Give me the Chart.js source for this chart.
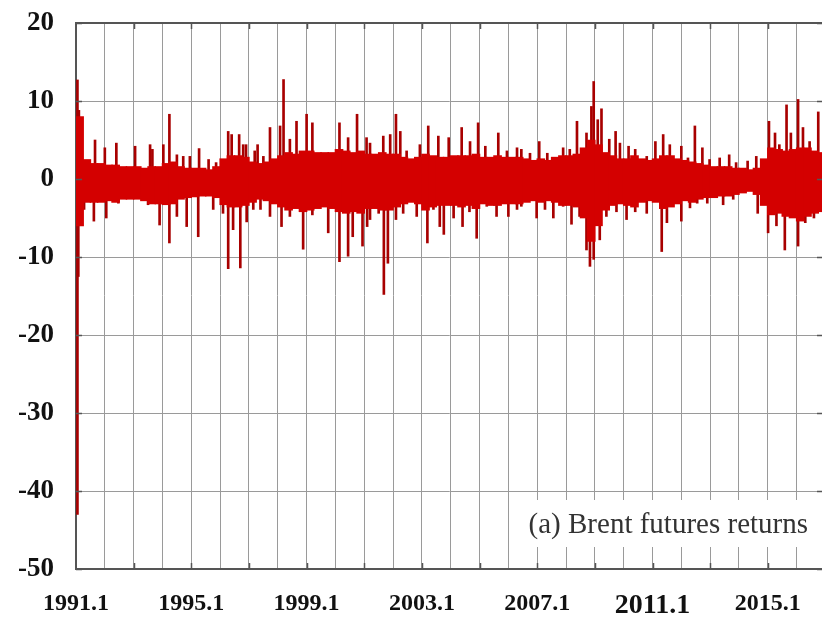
<!DOCTYPE html>
<html>
<head>
<meta charset="utf-8">
<script src="https://cdn.jsdelivr.net/npm/chart.js@4.4.0/dist/chart.umd.min.js"></script>
<style>
  body { margin: 0; background: #fff; }
  #wrap { width: 822px; height: 619px; }
</style>
</head>
<body>
<div id="wrap"><canvas id="chart" width="822" height="619"></canvas></div>
<script>
// quarterly envelope of the dense part of the series, 1991 Q1 .. 2016 Q4
var bodyHi = [
  8, 2.5, 2, 2,         // 1991
  1.8, 1.8, 1.6, 1.6,   // 1992
  1.6, 1.4, 1.6, 1.6,   // 1993
  2, 2.2, 1.6, 1.4,     // 1994
  1.4, 1.4, 1.2, 1.6,   // 1995
  2.6, 3, 3, 2.8,       // 1996
  2.2, 2, 2.2, 2.6,     // 1997
  3, 3.4, 3.2, 3.6,     // 1998
  3.6, 3.4, 3.4, 3.4,   // 1999
  3.8, 3.6, 3.4, 3.6,   // 2000
  3.2, 3.2, 3.4, 3.2,   // 2001
  3.2, 2.8, 2.6, 2.8,   // 2002
  3.2, 3, 2.8, 2.8,     // 2003
  3, 3, 3, 3.2,         // 2004
  2.8, 2.8, 3, 2.8,     // 2005
  2.8, 2.8, 2.6, 2.4,   // 2006
  2.6, 2.4, 2.8, 3,     // 2007
  3, 3.2, 4, 5,         // 2008
  4.4, 3.4, 3, 2.6,     // 2009
  2.6, 3, 2.6, 2.4,     // 2010
  2.6, 3, 3, 2.6,       // 2011
  2.4, 2.2, 2, 1.8,     // 2012
  1.6, 1.6, 1.6, 1.4,   // 2013
  1.4, 1.2, 1.4, 2.6,   // 2014
  4, 3.8, 3.6, 3.8,     // 2015
  4, 4, 3.6, 3.4        // 2016
];
var bodyLo = [
  -6, -3, -3, -3,
  -2.8, -3, -2.6, -2.6,
  -2.6, -2.8, -3.2, -3.2,
  -3.3, -3.2, -2.6, -2.4,
  -2.3, -2.2, -2.2, -2.4,
  -3.3, -3.6, -3.6, -3.4,
  -3, -2.6, -2.8, -3.2,
  -3.6, -4, -3.8, -4.2,
  -4, -3.8, -3.6, -3.8,
  -4.2, -4.4, -4.2, -4.4,
  -3.8, -3.8, -4, -4,
  -3.6, -3.2, -3, -3.2,
  -4, -3.6, -3.4, -3.4,
  -3.4, -3.6, -3.4, -3.8,
  -3.2, -3.4, -3.4, -3.2,
  -3.2, -3.2, -3, -2.8,
  -3, -2.8, -3, -3.4,
  -3.4, -3.6, -5, -8,
  -6, -4, -3.4, -3.2,
  -3.4, -3.6, -3, -2.8,
  -3, -3.8, -3.6, -3.2,
  -2.8, -3, -2.6, -2.4,
  -2.4, -2.2, -2.2, -2,
  -1.8, -1.6, -2, -3.4,
  -4.6, -4.4, -4.8, -5,
  -5.4, -4.8, -4.4, -4.2
];

// single large daily returns: date as decimal year, return in %
var upYears = [
  1991.05, 1991.1, 1991.66, 1992.0, 1992.4, 1993.05, 1993.57, 1993.65, 1994.03, 1994.24,
  1994.5, 1994.72, 1994.95, 1995.27, 1995.6, 1995.86, 1996.28, 1996.4, 1996.66, 1996.8,
  1996.9, 1997.2, 1997.3, 1997.5, 1997.73, 1998.08, 1998.2, 1998.42, 1998.65, 1999.0,
  1999.2, 2000.14, 2000.44, 2000.75, 2001.08, 2001.2, 2001.66, 2001.9, 2002.1, 2002.25,
  2002.47, 2002.93, 2003.22, 2003.57, 2003.93, 2004.38, 2004.67, 2004.95, 2005.2, 2005.65,
  2005.95, 2006.3, 2006.45, 2006.75, 2007.07, 2007.35, 2007.9, 2008.13, 2008.38, 2008.71,
  2008.88, 2008.96, 2009.1, 2009.23, 2009.5, 2009.72, 2009.87, 2010.17, 2010.4, 2010.8,
  2011.1, 2011.37, 2011.6, 2012.0, 2012.23, 2012.47, 2012.73, 2012.98, 2013.33, 2013.66,
  2013.9, 2014.3, 2014.6, 2015.04, 2015.25, 2015.4, 2015.65, 2015.8, 2016.05, 2016.22,
  2016.45, 2016.75
];
var upVals = [
  12.7, 8.8, 5.0, 4.0, 4.6, 4.2, 4.4, 3.8, 4.4, 8.3,
  3.1, 2.9, 2.9, 3.9, 2.5, 2.1, 6.1, 5.7, 5.7, 4.4,
  4.4, 3.6, 4.4, 2.9, 6.6, 6.8, 12.75, 5.1, 7.4, 8.3,
  7.2, 7.2, 5.3, 8.3, 5.3, 4.6, 5.5, 5.7, 8.3, 6.1,
  3.6, 4.4, 6.8, 5.5, 5.3, 6.6, 4.8, 7.2, 4.2, 5.9,
  3.6, 4.0, 3.8, 3.3, 4.8, 3.3, 4.0, 3.8, 7.4, 5.9,
  9.3, 12.5, 7.6, 9.0, 5.1, 6.1, 4.6, 4.2, 3.8, 2.9,
  4.8, 5.7, 4.4, 4.2, 2.7, 6.8, 4.0, 2.5, 2.7, 3.1,
  2.1, 2.3, 2.9, 7.4, 5.9, 4.4, 9.5, 5.9, 10.2, 6.6,
  4.8, 8.6
];
var downYears = [
  1991.05, 1991.08, 1991.28, 1991.62, 1992.05, 1992.47, 1993.5, 1993.9, 1994.24, 1994.5,
  1994.84, 1995.24, 1995.76, 1996.1, 1996.28, 1996.45, 1996.7, 1996.92, 1997.15, 1997.4,
  1997.73, 1998.13, 1998.42, 1998.88, 1999.2, 1999.75, 2000.14, 2000.44, 2000.6, 2000.94,
  2001.1, 2001.2, 2001.5, 2001.68, 2001.82, 2002.1, 2002.35, 2002.82, 2003.19, 2003.4,
  2003.62, 2003.76, 2004.1, 2004.41, 2004.65, 2004.9, 2005.25, 2005.59, 2006.0, 2006.3,
  2006.45, 2006.98, 2007.27, 2007.56, 2007.9, 2008.19, 2008.47, 2008.71, 2008.83, 2008.96,
  2009.17, 2009.4, 2009.75, 2010.1, 2010.4, 2010.8, 2011.32, 2011.5, 2011.9, 2012.0,
  2012.3, 2012.55, 2012.9, 2013.45, 2013.8, 2014.65, 2015.01, 2015.3, 2015.59, 2016.05,
  2016.3, 2016.6
];
var downVals = [
  -43, -12.5, -3.9, -5.4, -5.0, -3.1, -3.3, -5.9, -8.2, -4.8,
  -6.1, -7.4, -3.9, -4.4, -11.5, -6.5, -11.4, -5.5, -3.9, -3.9,
  -4.8, -6.1, -4.8, -9.0, -4.6, -6.9, -10.6, -9.9, -7.4, -8.6,
  -6.1, -5.2, -4.4, -14.8, -10.8, -5.2, -4.4, -4.8, -8.2, -3.9,
  -6.1, -7.1, -5.0, -6.1, -4.2, -7.6, -3.5, -4.8, -4.8, -3.9,
  -3.5, -5.0, -3.9, -5.0, -3.5, -5.8, -4.8, -9.1, -11.2, -10.3,
  -7.8, -4.8, -4.2, -5.2, -4.2, -4.4, -9.3, -5.6, -3.1, -5.4,
  -3.7, -3.1, -3.1, -3.3, -2.6, -4.4, -6.9, -6.0, -9.1, -8.6,
  -5.6, -5.0
];

var firstYear = 1991;
var yTicks = [-50, -40, -30, -20, -10, 0, 10, 20];

var bodyData = bodyHi.map(function (h, i) {
  return { x: firstYear + i * 0.25 + 0.125, y: [bodyLo[i], h] };
});
var spikeData = upYears.map(function (t, i) {
  return { x: t, y: [0, upVals[i]] };
}).concat(downYears.map(function (t, i) {
  return { x: t, y: [0, downVals[i]] };
}));

var serif = '"Liberation Serif", "Times New Roman", serif';

var framePlugin = {
  id: 'frame',
  afterDraw: function (chart) {
    var c = chart.ctx, a = chart.chartArea;
    var xs = chart.scales.x, ys = chart.scales.y;
    c.save();
    c.strokeStyle = '#555';
    c.lineWidth = 2;
    c.beginPath();
    c.moveTo(a.left, a.top);
    c.lineTo(a.right, a.top);
    c.stroke();
    c.lineWidth = 1.5;
    c.beginPath();
    for (var yr = firstYear + 2; yr < xs.max; yr += 2) {
      var px = Math.round(xs.getPixelForValue(yr)) + 0.5;
      c.moveTo(px, a.top); c.lineTo(px, a.top + 6);
      c.moveTo(px, a.bottom); c.lineTo(px, a.bottom - 6);
    }
    yTicks.forEach(function (v) {
      var py = Math.round(ys.getPixelForValue(v)) + 0.5;
      c.moveTo(a.left, py); c.lineTo(a.left + 6, py);
      c.moveTo(a.right, py); c.lineTo(a.right - 5, py);
    });
    c.stroke();
    // panel caption
    c.fillStyle = '#fff';
    c.fillRect(515, 500, a.right - 515, 47);
    c.fillStyle = '#333';
    c.font = '29px ' + serif;
    c.textAlign = 'right';
    c.textBaseline = 'alphabetic';
    c.fillText('(a) Brent futures returns', 808, 533);
    c.restore();
  }
};

new Chart(document.getElementById('chart'), {
  type: 'bar',
  data: {
    datasets: [{
      label: 'body',
      data: bodyData,
      backgroundColor: '#d40000',
      barThickness: 8,
      grouped: false,
      order: 0
    }, {
      label: 'spikes',
      data: spikeData,
      backgroundColor: '#a80000',
      barThickness: 2,
      grouped: false,
      order: 1
    }]
  },
  options: {
    responsive: false,
    animation: false,
    devicePixelRatio: 1,
    layout: { padding: { top: 23, right: 0, left: 0, bottom: 0 } },
    plugins: { legend: { display: false }, tooltip: { enabled: false } },
    scales: {
      x: {
        type: 'linear',
        min: 1991,
        max: 2016.88,
        offset: false,
        grid: { color: '#9a9a9a', lineWidth: 1, drawTicks: false, offset: false },
        border: { color: '#555', width: 2 },
        afterFit: function (s) { s.height = 50; },
        ticks: {
          stepSize: 1,
          autoSkip: false,
          includeBounds: false,
          maxRotation: 0,
          padding: 20,
          color: '#111',
          font: function (ctx) {
            var big = ctx.tick && ctx.tick.value === 2011;
            return { family: serif, weight: 'bold', size: big ? 28 : 24 };
          },
          callback: function (v) {
            return (v - firstYear) % 4 === 0 ? v + '.1' : '';
          }
        }
      },
      y: {
        min: -50,
        max: 20,
        grid: { color: '#9a9a9a', lineWidth: 1, drawTicks: false },
        border: { color: '#555', width: 2 },
        afterFit: function (s) {
          s.width = 76;
          s.paddingTop = 0;
          s.paddingBottom = 0;
        },
        ticks: {
          stepSize: 10,
          padding: 22,
          color: '#111',
          font: { family: serif, weight: 'bold', size: 27 }
        }
      }
    }
  },
  plugins: [framePlugin]
});
</script>
</body>
</html>
